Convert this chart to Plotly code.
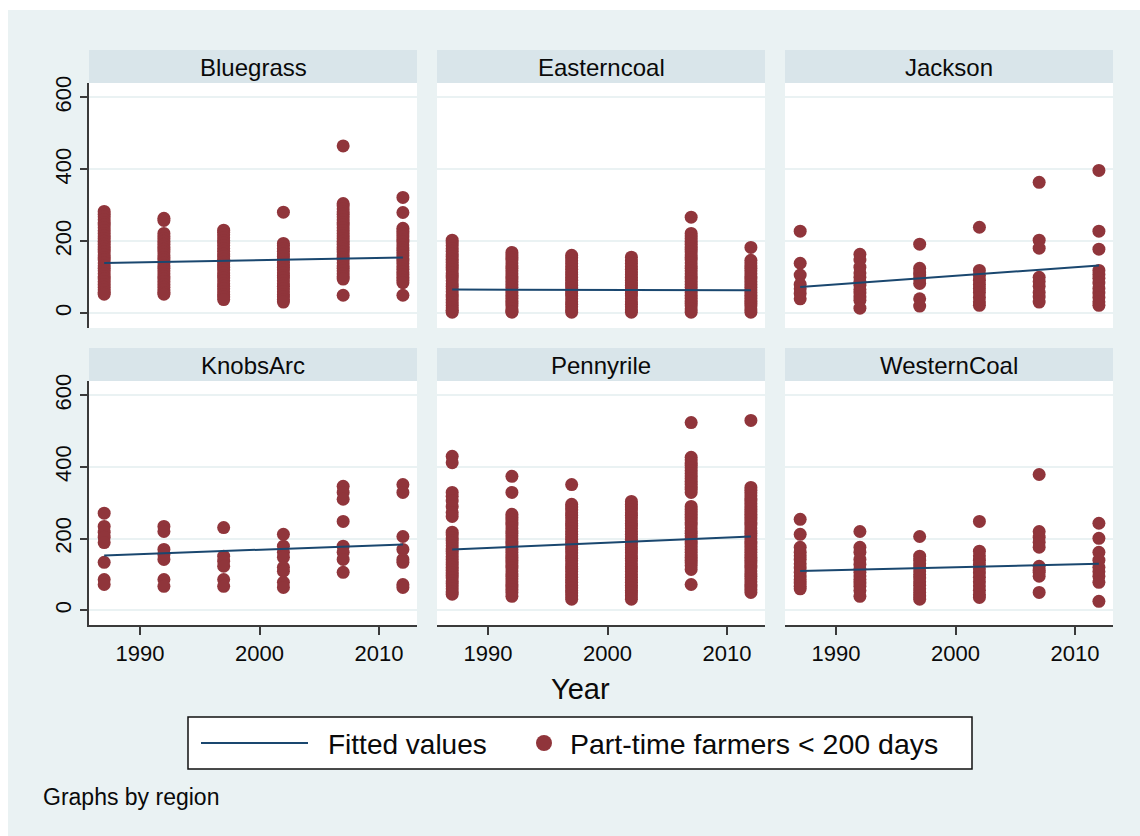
import plotly.graph_objects as go

# ---- data -------------------------------------------------------------
years = [1987, 1992, 1997, 2002, 2007, 2012]
regions = ["Bluegrass", "Easterncoal", "Jackson", "KnobsArc", "Pennyrile", "WesternCoal"]

# part-time farmers (< 200 days), one list per census year
bluegrass = [
    [283, 275, 268, 260, 252, 245, 238, 230, 222, 215, 208, 200, 192, 185, 178, 170, 162, 155, 148, 140,
     132, 125, 118, 110, 102, 95, 88, 80, 72, 65, 58, 53],
    [264, 258, 222, 215, 208, 200, 192, 185, 178, 170, 162, 155, 148, 140, 132, 125, 118, 110, 102, 95,
     88, 80, 72, 65, 58, 53],
    [231, 225, 218, 210, 202, 195, 188, 180, 172, 165, 158, 150, 142, 135, 128, 120, 112, 105, 98, 90,
     82, 75, 68, 60, 52, 45, 38],
    [281, 194, 188, 180, 172, 165, 158, 150, 142, 135, 128, 120, 112, 105, 98, 90, 82, 75, 68, 60,
     52, 45, 38, 31],
    [465, 305, 298, 290, 282, 275, 268, 260, 252, 245, 238, 230, 222, 215, 208, 200, 192, 185, 178, 170,
     162, 155, 148, 140, 132, 125, 118, 110, 102, 95, 50],
    [322, 280, 236, 228, 220, 212, 205, 198, 190, 182, 175, 168, 160, 152, 145, 138, 130, 122, 115, 108,
     100, 92, 85, 50],
]
easterncoal = [
    [203, 195, 188, 180, 172, 165, 158, 150, 142, 135, 128, 120, 112, 105, 98, 90, 82, 75, 68, 60,
     52, 45, 38, 30, 22, 15, 8, 3],
    [169, 162, 155, 148, 140, 132, 125, 118, 110, 102, 95, 88, 80, 72, 65, 58, 50, 42, 35, 28, 20, 12, 5, 3],
    [161, 154, 146, 138, 130, 122, 115, 108, 100, 92, 85, 78, 70, 62, 55, 48, 40, 32, 25, 18, 10, 3],
    [156, 145, 138, 130, 122, 115, 108, 100, 92, 85, 78, 70, 62, 55, 48, 40, 32, 25, 18, 10, 3],
    [267, 222, 215, 208, 200, 192, 185, 178, 170, 162, 155, 148, 140, 132, 125, 118, 110, 102, 95, 88,
     80, 72, 65, 58, 50, 42, 35, 28, 20, 12, 3],
    [183, 147, 140, 132, 125, 118, 110, 102, 95, 88, 80, 72, 65, 58, 50, 42, 35, 28, 20, 12, 3],
]
jackson = [
    [228, 139, 106, 80, 68, 55, 40],
    [164, 148, 128, 112, 100, 88, 78, 66, 56, 45, 36, 14],
    [192, 125, 115, 106, 95, 83, 40, 20],
    [239, 119, 105, 92, 80, 69, 58, 44, 32, 22],
    [364, 203, 181, 100, 88, 75, 58, 45, 31],
    [397, 228, 178, 119, 108, 97, 84, 69, 56, 44, 32, 22],
]
knobsarc = [
    [271, 234, 218, 204, 189, 134, 86, 72],
    [234, 220, 170, 156, 142, 86, 67],
    [231, 151, 137, 123, 86, 67],
    [212, 179, 162, 148, 120, 109, 78, 64],
    [346, 329, 310, 248, 179, 162, 142, 106],
    [351, 329, 206, 170, 142, 134, 72, 64],
]
pennyrile = [
    [430, 412, 329, 318, 305, 290, 273, 262, 218, 210, 202, 195, 188, 180, 172, 165, 158, 150, 142, 135,
     128, 120, 112, 105, 98, 90, 82, 75, 68, 60, 52, 45],
    [374, 329, 268, 260, 252, 245, 238, 230, 222, 215, 208, 200, 192, 185, 178, 170, 162, 155, 148, 140,
     132, 125, 118, 110, 102, 95, 88, 80, 72, 65, 58, 50, 39],
    [351, 296, 288, 280, 272, 265, 258, 250, 242, 235, 228, 220, 212, 205, 198, 190, 182, 175, 168, 160,
     152, 145, 138, 130, 122, 115, 108, 100, 92, 85, 78, 70, 62, 55, 48, 40, 31],
    [304, 296, 288, 280, 272, 265, 258, 250, 242, 235, 228, 220, 212, 205, 198, 190, 182, 175, 168, 160,
     152, 145, 138, 130, 122, 115, 108, 100, 92, 85, 78, 70, 62, 55, 48, 40, 31],
    [524, 427, 420, 412, 405, 398, 390, 382, 375, 368, 360, 352, 345, 338, 329, 290, 282, 275, 268, 260,
     252, 245, 238, 230, 222, 215, 208, 200, 192, 185, 178, 170, 162, 155, 148, 140, 132, 125, 114, 72],
    [530, 343, 335, 328, 320, 312, 305, 298, 290, 282, 275, 268, 260, 252, 245, 238, 230, 222, 215, 208,
     200, 192, 185, 178, 170, 162, 155, 148, 140, 132, 125, 118, 110, 102, 95, 88, 80, 72, 65, 58, 50],
]
westerncoal = [
    [254, 212, 176, 162, 152, 142, 130, 118, 106, 96, 86, 76, 67, 60],
    [220, 176, 162, 142, 128, 116, 106, 96, 86, 76, 67, 55, 39],
    [206, 151, 140, 130, 120, 110, 100, 90, 80, 70, 60, 50, 40, 31],
    [248, 165, 152, 140, 128, 116, 104, 92, 80, 68, 56, 44, 36],
    [379, 220, 204, 190, 176, 123, 112, 106, 95, 50],
    [243, 201, 162, 140, 120, 108, 95, 78, 25],
]
region_values = [bluegrass, easterncoal, jackson, knobsarc, pennyrile, westerncoal]

# linear fit: fitted value at first and last year
fit_start = [140, 66, 73, 153, 170, 110]
fit_end = [155, 64, 133, 184, 206, 130]

x_ticks = [1990, 2000, 2010]
y_ticks = [0, 200, 400, 600]

# ---- styling ------------------------------------------------------------
W, H = 1140, 836
BG = "#EAF2F3"
STRIP = "#D9E5EA"
MAROON = "#90353B"
NAVY = "#1A476F"
AXIS = "#3A3A3A"
TEXT = "#0A0A0A"
FONT = "Liberation Sans, Arial, Helvetica, sans-serif"

col_px = [(89, 417), (437, 765), (785, 1113)]
row_px = [(83, 328), (381, 625)]
strip_px = [(50, 83), (348, 381)]


def px_x(x):
    return x / W


def px_y(y):
    return 1 - y / H


fig = go.Figure()
layout = dict(
    width=W, height=H,
    margin=dict(l=0, r=0, t=0, b=0),
    paper_bgcolor=BG,
    plot_bgcolor="white",
    showlegend=False,
    font=dict(family=FONT, color=TEXT),
)
shapes = []
annotations = []

# white frame along the top and left edges
shapes.append(dict(type="rect", xref="paper", yref="paper", x0=0, x1=1, y0=px_y(10), y1=1,
                   fillcolor="white", line_width=0, layer="below"))
shapes.append(dict(type="rect", xref="paper", yref="paper", x0=0, x1=px_x(8), y0=0, y1=1,
                   fillcolor="white", line_width=0, layer="below"))

for i, name in enumerate(regions):
    r, c = divmod(i, 3)
    k = i + 1
    xa = "x" if k == 1 else f"x{k}"
    ya = "y" if k == 1 else f"y{k}"

    xs, ys = [], []
    for yr, vals in zip(years, region_values[i]):
        xs.extend([yr] * len(vals))
        ys.extend(vals)

    fig.add_trace(go.Scatter(
        x=xs, y=ys, mode="markers", xaxis=xa, yaxis=ya,
        marker=dict(size=13, color=MAROON, line=dict(width=0)),
        name="Part-time farmers < 200 days",
    ))
    fig.add_trace(go.Scatter(
        x=[years[0], years[-1]], y=[fit_start[i], fit_end[i]], mode="lines",
        xaxis=xa, yaxis=ya, line=dict(color=NAVY, width=2),
        name="Fitted values",
    ))

    bottom = r == 1
    left = c == 0
    layout["xaxis" if k == 1 else f"xaxis{k}"] = dict(
        domain=[px_x(col_px[c][0]), px_x(col_px[c][1])],
        anchor=ya, range=[1985.73, 2013.18],
        showgrid=False, zeroline=False,
        tickvals=x_ticks,
        showline=bottom, linecolor=AXIS, linewidth=1.5,
        ticks="outside" if bottom else "", ticklen=8, tickwidth=1.5, tickcolor=AXIS,
        showticklabels=bottom, tickfont=dict(size=22, family=FONT, color=TEXT),
        automargin=False,
    )
    layout["yaxis" if k == 1 else f"yaxis{k}"] = dict(
        domain=[px_y(row_px[r][1]), px_y(row_px[r][0])],
        anchor=xa, range=[-41, 640],
        tickvals=y_ticks,
        showgrid=True, gridcolor=BG, gridwidth=1.5, zeroline=False,
        showline=left, linecolor=AXIS, linewidth=1.5,
        ticks="outside" if left else "", ticklen=7, tickwidth=1.5, tickcolor=AXIS,
        showticklabels=left, tickangle=-90,
        tickfont=dict(size=22, family=FONT, color=TEXT),
        automargin=False,
    )

    # strip with the region name
    shapes.append(dict(type="rect", xref="paper", yref="paper",
                       x0=px_x(col_px[c][0]), x1=px_x(col_px[c][1]),
                       y0=px_y(strip_px[r][1]), y1=px_y(strip_px[r][0]),
                       fillcolor=STRIP, line_width=0))
    annotations.append(dict(xref="paper", yref="paper",
                            x=px_x((col_px[c][0] + col_px[c][1]) / 2),
                            y=px_y((strip_px[r][0] + strip_px[r][1]) / 2 + 1),
                            text=name, showarrow=False, xanchor="center", yanchor="middle",
                            font=dict(size=24, family=FONT, color=TEXT)))

# shared x-axis title
annotations.append(dict(xref="paper", yref="paper", x=px_x(580), y=px_y(689), text="Year",
                        showarrow=False, xanchor="center", yanchor="middle",
                        font=dict(size=29, family=FONT, color=TEXT)))

# legend box
shapes.append(dict(type="rect", xref="paper", yref="paper", x0=px_x(188), x1=px_x(972),
                   y0=px_y(769), y1=px_y(717), fillcolor="white",
                   line=dict(color="#111111", width=1.5)))
shapes.append(dict(type="line", xref="paper", yref="paper", x0=px_x(201), x1=px_x(308),
                   y0=px_y(743), y1=px_y(743), line=dict(color=NAVY, width=2)))
shapes.append(dict(type="circle", xref="paper", yref="paper", x0=px_x(536), x1=px_x(552),
                   y0=px_y(751), y1=px_y(735), fillcolor=MAROON, line_width=0))
annotations.append(dict(xref="paper", yref="paper", x=px_x(326), y=px_y(744), text="Fitted values",
                        showarrow=False, xanchor="left", yanchor="middle",
                        font=dict(size=28, family=FONT, color=TEXT)))
annotations.append(dict(xref="paper", yref="paper", x=px_x(568), y=px_y(744),
                        text="Part-time farmers < 200 days",
                        showarrow=False, xanchor="left", yanchor="middle",
                        font=dict(size=28.5, family=FONT, color=TEXT)))

# note
annotations.append(dict(xref="paper", yref="paper", x=px_x(41), y=px_y(797), text="Graphs by region",
                        showarrow=False, xanchor="left", yanchor="middle",
                        font=dict(size=23, family=FONT, color=TEXT)))

layout["shapes"] = shapes
layout["annotations"] = annotations
fig.update_layout(**layout)

fig.write_html("out.html")
